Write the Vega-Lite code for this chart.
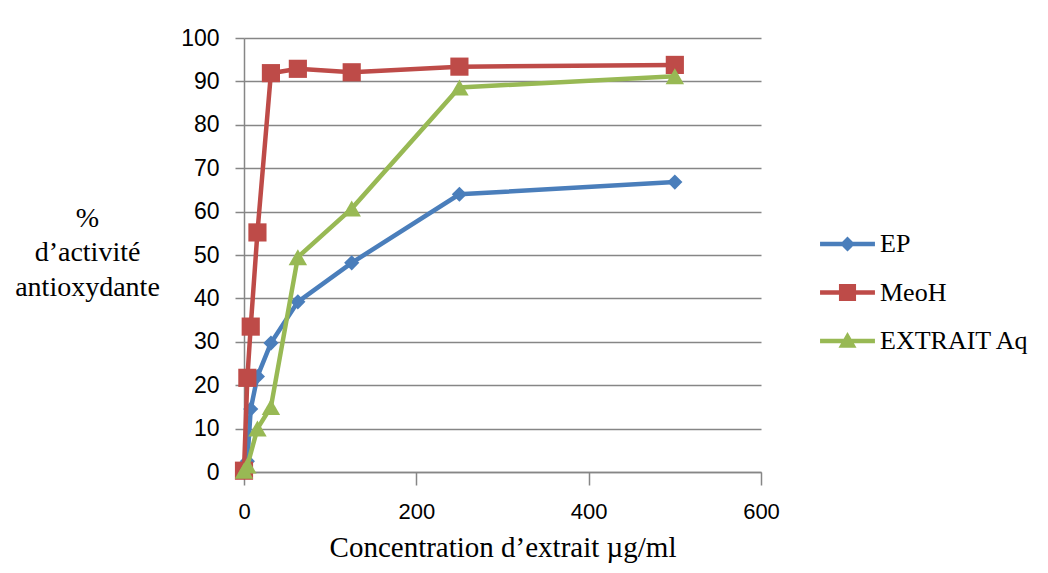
{
"$schema": "https://vega.github.io/schema/vega-lite/v6.json",
"width": 517,
"height": 434,
"autosize": {"type": "none"},
"padding": {"left": 244, "top": 38, "right": 287, "bottom": 101},
"background": "white",
"config": {"view": {"stroke": null}},
"data": {"values": [
{"s": "EP", "x": 0, "y": 0},
{"s": "EP", "x": 3.9, "y": 2.5},
{"s": "EP", "x": 7.8, "y": 14.5},
{"s": "EP", "x": 15.6, "y": 22},
{"s": "EP", "x": 31.25, "y": 29.7},
{"s": "EP", "x": 62.5, "y": 39.2},
{"s": "EP", "x": 125, "y": 48.2},
{"s": "EP", "x": 250, "y": 64},
{"s": "EP", "x": 500, "y": 66.8},
{"s": "MeoH", "x": 0, "y": 0.3},
{"s": "MeoH", "x": 3.9, "y": 21.7},
{"s": "MeoH", "x": 7.8, "y": 33.5},
{"s": "MeoH", "x": 15.6, "y": 55.2},
{"s": "MeoH", "x": 31.25, "y": 91.9},
{"s": "MeoH", "x": 62.5, "y": 92.9},
{"s": "MeoH", "x": 125, "y": 92.1},
{"s": "MeoH", "x": 250, "y": 93.4},
{"s": "MeoH", "x": 500, "y": 93.8},
{"s": "EXTRAIT Aq", "x": 0, "y": 0.3},
{"s": "EXTRAIT Aq", "x": 3.9, "y": 1.5},
{"s": "EXTRAIT Aq", "x": 15.6, "y": 10},
{"s": "EXTRAIT Aq", "x": 31.25, "y": 15},
{"s": "EXTRAIT Aq", "x": 62.5, "y": 49.5},
{"s": "EXTRAIT Aq", "x": 125, "y": 60.7},
{"s": "EXTRAIT Aq", "x": 250, "y": 88.6},
{"s": "EXTRAIT Aq", "x": 500, "y": 91.2}
]},
"encoding": {
  "x": {"field": "x", "type": "quantitative",
    "scale": {"domain": [0, 600], "nice": false},
    "axis": {"values": [0, 200, 400, 600], "grid": false, "domain": true, "domainColor": "#868686", "domainWidth": 1.5,
      "ticks": true, "tickSize": 13, "tickColor": "#868686", "tickWidth": 1.5, "labelFlush": false,
      "labelFont": "Liberation Sans", "labelFontSize": 22, "labelColor": "black", "labelPadding": 16,
      "title": "Concentration d’extrait µg/ml", "titleFont": "Liberation Serif", "titleFontSize": 29,
      "titleFontWeight": "normal", "titleColor": "black", "titlePadding": 11}},
  "y": {"field": "y", "type": "quantitative",
    "scale": {"domain": [0, 100], "nice": false},
    "axis": {"values": [0, 10, 20, 30, 40, 50, 60, 70, 80, 90, 100], "grid": true, "gridColor": "#868686", "gridWidth": 1.5,
      "domain": true, "domainColor": "#868686", "domainWidth": 1.5,
      "ticks": true, "tickSize": 9, "tickColor": "#868686", "tickWidth": 1.5,
      "labelFont": "Liberation Sans", "labelFontSize": 23, "labelColor": "black", "labelPadding": 16,
      "title": ["%", "d’activité", "antioxydante"], "titleAngle": 0, "titleAlign": "center", "titleBaseline": "top",
      "titleX": -157, "titleY": 166, "titleLineHeight": 34.5,
      "titleFont": "Liberation Serif", "titleFontSize": 28, "titleFontWeight": "normal", "titleColor": "black"}},
  "color": {"field": "s", "type": "nominal",
    "scale": {"domain": ["EP", "MeoH", "EXTRAIT Aq"], "range": ["#4A7EBB", "#BE4B48", "#98B954"]},
    "legend": {"orient": "none", "legendX": 588.5, "legendY": 191, "title": null,
      "labelFont": "Liberation Serif", "labelFontSize": 26, "labelColor": "black",
      "symbolSize": 900, "rowPadding": 20.5, "labelOffset": 17.5, "padding": 0,
      "encode": {"symbols": {"update": {
        "shape": {"signal": "datum.value === 'EP' ? 'M-1.83,-0.147L1.83,-0.147L1.83,0.147L-1.83,0.147Z M0,-0.5L0.5,0L0,0.5L-0.5,0Z' : datum.value === 'MeoH' ? 'M-1.83,-0.147L1.83,-0.147L1.83,0.147L-1.83,0.147Z M-0.57,-0.57L0.57,-0.57L0.57,0.57L-0.57,0.57Z' : 'M-1.83,-0.147L1.83,-0.147L1.83,0.147L-1.83,0.147Z M0,-0.6L0.6,0.45L-0.6,0.45Z'"},
        "fill": {"signal": "datum.value === 'EP' ? '#4A7EBB' : datum.value === 'MeoH' ? '#BE4B48' : '#98B954'"},
        "stroke": {"value": "transparent"},
        "strokeWidth": {"value": 0},
        "opacity": {"value": 1},
        "size": {"value": 900}
      }}}}}
},
"layer": [
  {"transform": [{"filter": {"field": "s", "equal": "EP"}}], "mark": {"type": "line", "strokeWidth": 4.5}},
  {"transform": [{"filter": {"field": "s", "equal": "EP"}}], "mark": {"type": "point", "filled": true, "opacity": 1, "shape": "diamond", "size": 230}},
  {"transform": [{"filter": {"field": "s", "equal": "MeoH"}}], "mark": {"type": "line", "strokeWidth": 4.5}},
  {"transform": [{"filter": {"field": "s", "equal": "MeoH"}}], "mark": {"type": "point", "filled": true, "opacity": 1, "shape": "square", "size": 330}},
  {"transform": [{"filter": {"field": "s", "equal": "EXTRAIT Aq"}}], "mark": {"type": "line", "strokeWidth": 4.5}},
  {"transform": [{"filter": {"field": "s", "equal": "EXTRAIT Aq"}}], "mark": {"type": "point", "filled": true, "opacity": 1, "shape": "triangle-up", "size": 340}}
]
}
